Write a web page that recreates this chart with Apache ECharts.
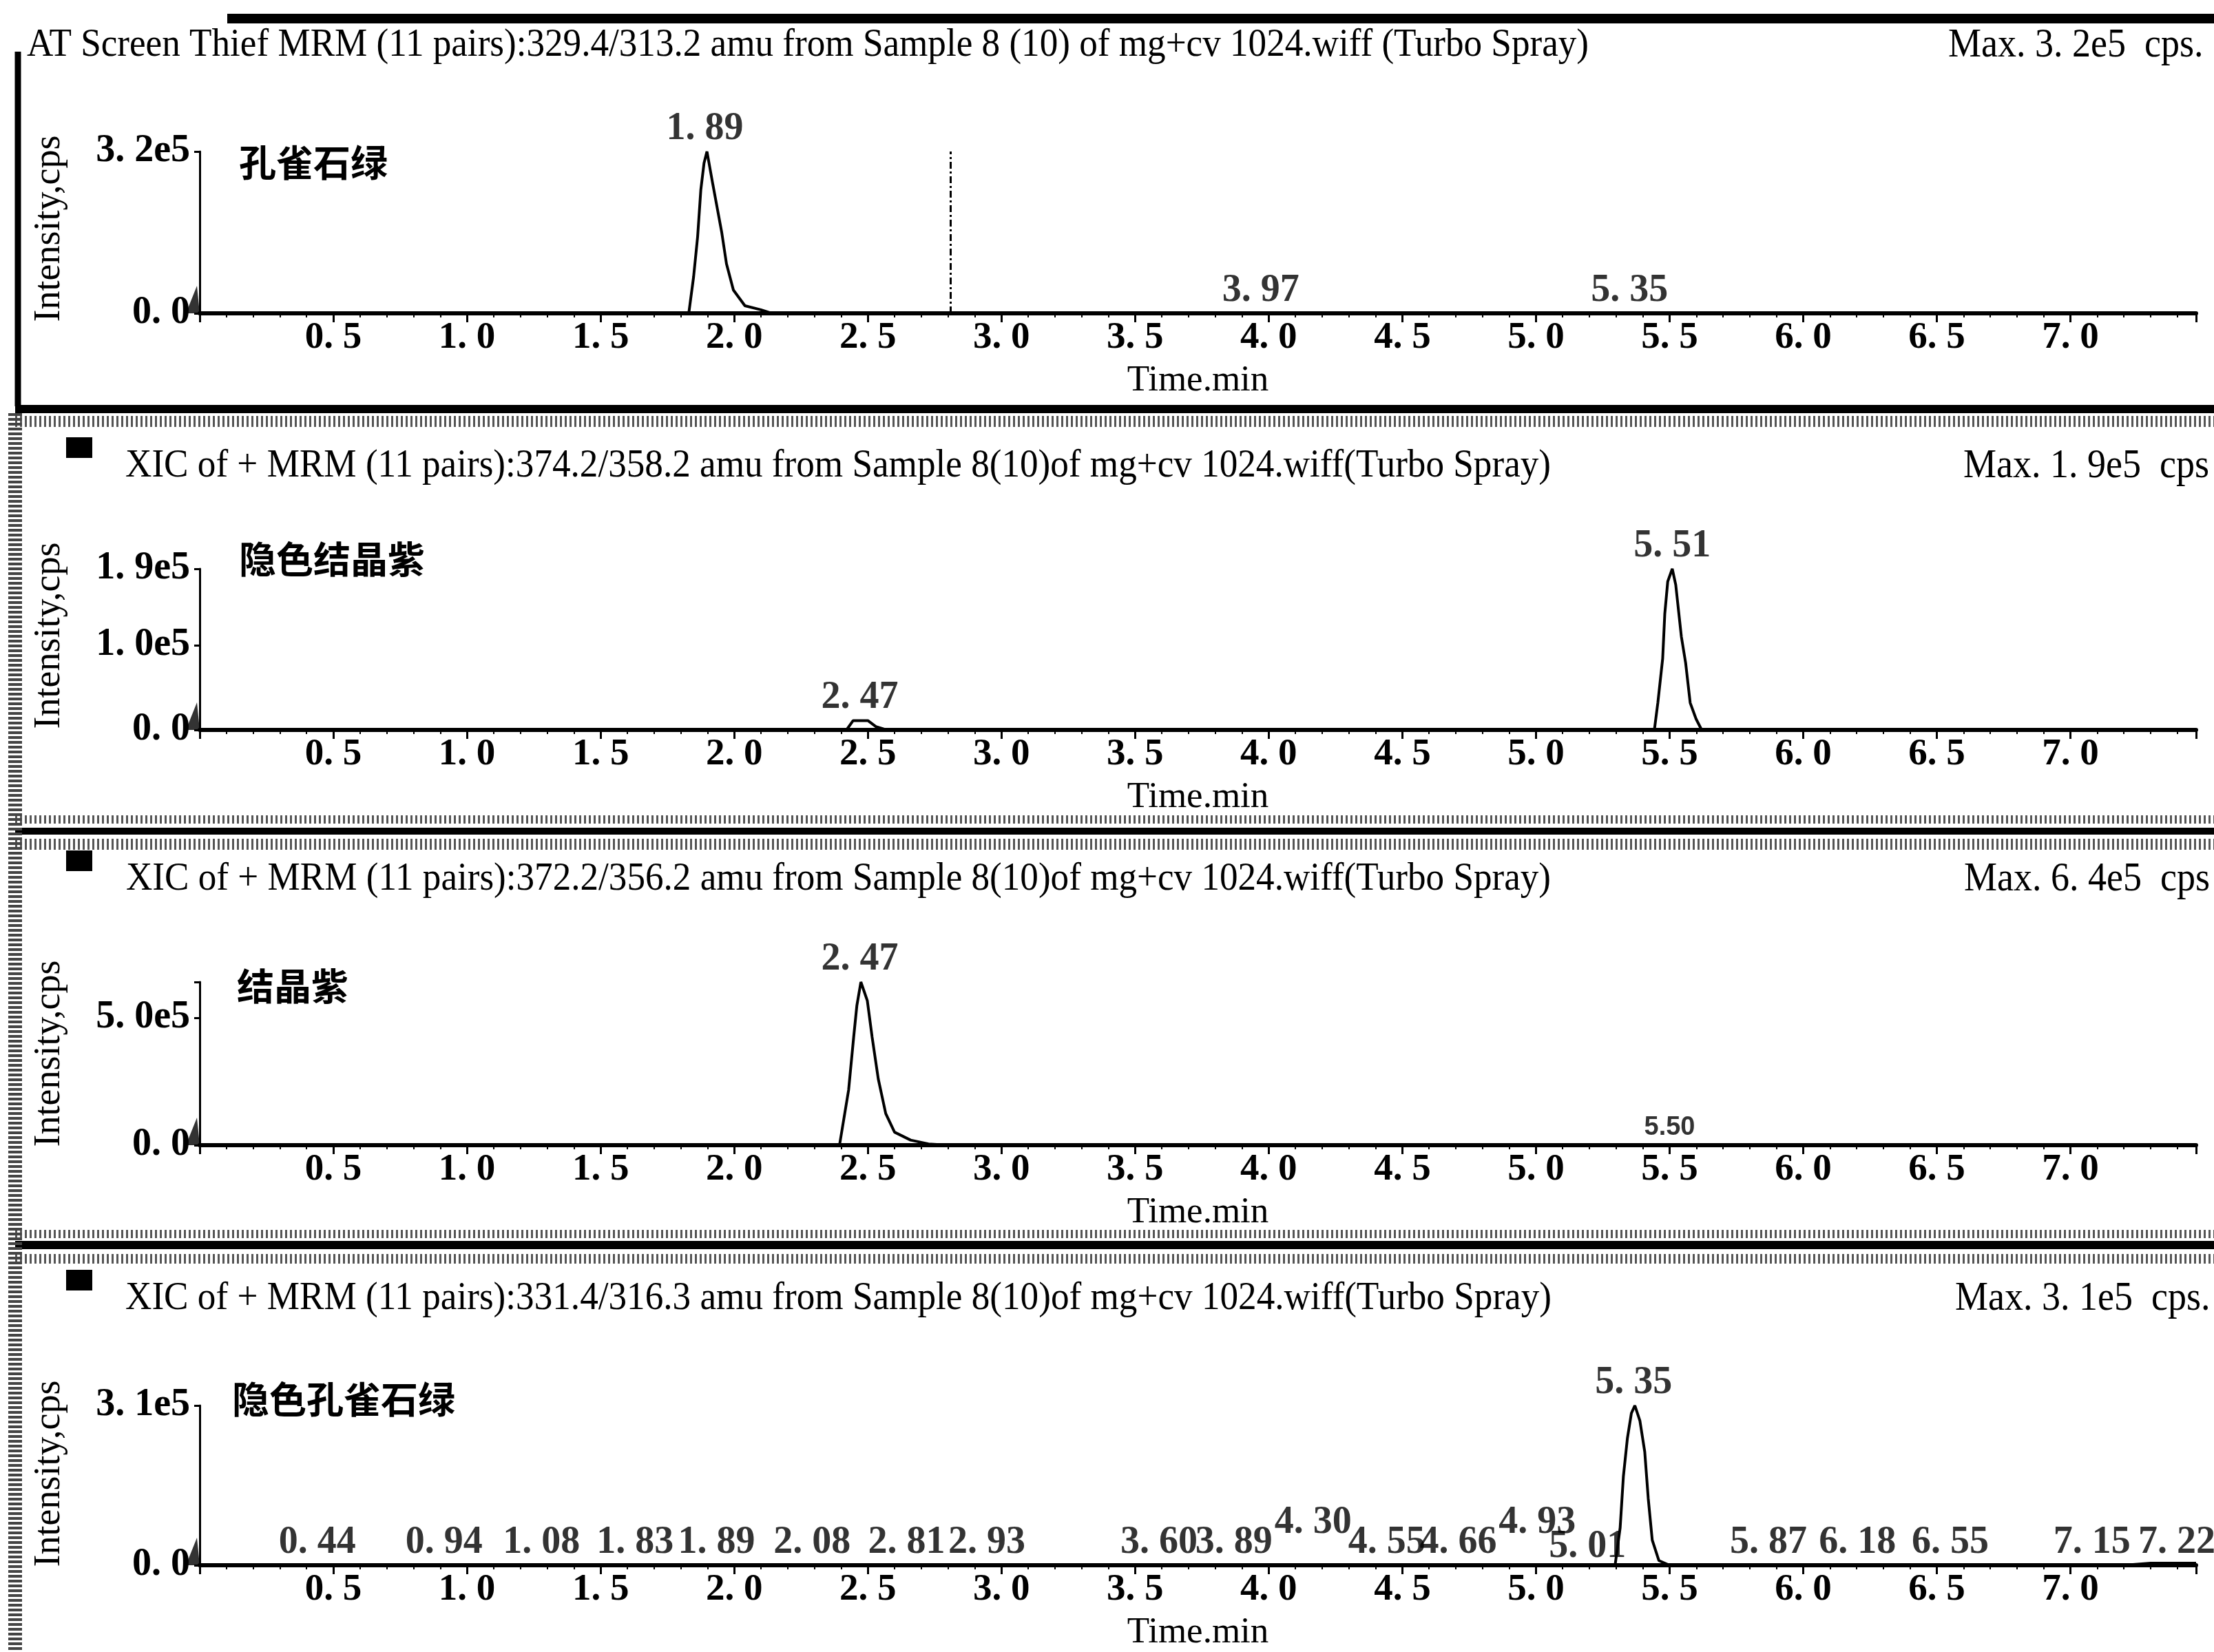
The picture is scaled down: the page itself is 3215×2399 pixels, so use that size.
<!DOCTYPE html>
<html><head><meta charset="utf-8">
<script src="https://cdn.jsdelivr.net/npm/echarts@6/dist/echarts.min.js"></script>
<style>html,body{margin:0;padding:0;background:#fff}#c{width:3215px;height:2399px}</style>
</head><body><div id="c"></div>
<script>
// ---------- DATA ----------
const headers = [
  'AT Screen Thief MRM (11 pairs):329.4/313.2 amu from Sample 8 (10) of mg+cv 1024.wiff (Turbo Spray)',
  'XIC of + MRM (11 pairs):374.2/358.2 amu from Sample 8(10)of mg+cv 1024.wiff(Turbo Spray)',
  'XIC of + MRM (11 pairs):372.2/356.2 amu from Sample 8(10)of mg+cv 1024.wiff(Turbo Spray)',
  'XIC of + MRM (11 pairs):331.4/316.3 amu from Sample 8(10)of mg+cv 1024.wiff(Turbo Spray)'
];
const maxTexts = ['Max. 3. 2e5  cps.', 'Max. 1. 9e5  cps', 'Max. 6. 4e5  cps', 'Max. 3. 1e5  cps.'];
const compounds = ['孔雀石绿', '隐色结晶紫', '结晶紫', '隐色孔雀石绿'];
const yMaxes = [3.2e5, 1.9e5, 6.4e5, 3.1e5];
const yIntervals = [3.2e5, 1.0e5, 5.0e5, 3.1e5];
const yTickValues = [[0, 3.2e5], [0, 1.0e5, 1.9e5], [0, 5.0e5], [0, 3.1e5]];
const yTickLabels = [['0. 0', '3. 2e5'], ['0. 0', '1. 0e5', '1. 9e5'], ['0. 0', '5. 0e5'], ['0. 0', '3. 1e5']];
const xMax = 7.47;

// panel 1: 孔雀石绿
const p1Time = [0, 1.830, 1.848, 1.863, 1.875, 1.887, 1.898, 1.920, 1.953, 1.971, 1.997, 2.040, 2.100, 2.140, 7.47];
const p1Int  = [0, 0, 0.72e5, 1.51e5, 2.44e5, 2.97e5, 3.2e5, 2.55e5, 1.61e5, 0.98e5, 0.46e5, 0.15e5, 0.07e5, 0, 0];
const p1PeakRT = [1.89, 3.97, 5.35];
const p1PeakInt = [3.2e5, 0, 0];
const p1Marker = [2.81];

// panel 2: 隐色结晶紫
const p2Time = [0, 2.42, 2.445, 2.50, 2.53, 2.57, 5.443, 5.456, 5.474, 5.482, 5.493, 5.51, 5.523, 5.544, 5.56, 5.577, 5.599, 5.62, 7.47];
const p2Int  = [0, 0, 0.11e5, 0.11e5, 0.04e5, 0, 0, 0.32e5, 0.84e5, 1.37e5, 1.75e5, 1.9e5, 1.71e5, 1.10e5, 0.79e5, 0.32e5, 0.13e5, 0, 0];
const p2PeakRT = [2.47, 5.51];
const p2PeakInt = [0.11e5, 1.9e5];

// panel 3: 结晶紫
const p3Time = [0, 2.394, 2.428, 2.447, 2.459, 2.474, 2.498, 2.516, 2.539, 2.567, 2.60, 2.66, 2.727, 2.80, 7.47];
const p3Int  = [0, 0, 2.16e5, 4.24e5, 5.48e5, 6.4e5, 5.67e5, 4.24e5, 2.6e5, 1.24e5, 0.51e5, 0.2e5, 0.05e5, 0, 0];
const p3PeakRT = [2.47];
const p3PeakInt = [6.4e5];
const p3MinorRT = [5.50];

// panel 4: 隐色孔雀石绿
const p4Time = [0, 5.296, 5.315, 5.327, 5.342, 5.357, 5.370, 5.389, 5.407, 5.420, 5.435, 5.460, 5.500, 7.20, 7.30, 7.47];
const p4Int  = [0, 0, 0.73e5, 1.72e5, 2.46e5, 2.95e5, 3.1e5, 2.80e5, 2.2e5, 1.3e5, 0.49e5, 0.09e5, 0, 0, 0.04e5, 0.04e5];
const p4PeakRT = [0.44, 0.94, 1.08, 1.83, 1.89, 2.08, 2.81, 2.93, 3.60, 3.89, 4.30, 4.55, 4.66, 4.93, 5.01, 5.35, 5.87, 6.18, 6.55, 7.15, 7.22];
const p4PeakInt = [0, 0, 0, 0, 0, 0, 0, 0, 0, 0, 0, 0, 0, 0, 0, 3.1e5, 0, 0, 0, 0, 0];

// ---------- LAYOUT (pixels) ----------
const gridTop = [220, 826, 1426, 2041];
const gridBottom = [455, 1060, 1663, 2278];
const gridLeft = 290, gridRight = 26;
const headerY = [66, 677, 1277, 1886];
const headerX = [39, 182, 183, 182];
const headerW = [2268, 2070, 2069, 2071];
const maxX = [2829, 2851, 2852, 2839];
const compoundX = [347, 347, 344, 337];
const compoundY = [236, 812, 1432, 2032];
const yNameY = [332, 923, 1530, 2140];
// label shifts (px) used by the instrument software to avoid overlap, panel 4
const p4LabelDx = [0, -10, 77, -78, 17, 82, -64, 6, -4, -8, -52, -42, 19, 29, 71, 6, 0, 9, 0, -27, 69];
const p4LabelDy = [0, 0, 0, 0, 0, 0, 0, 0, 0, 0, -29, 0, 0, -29, 6, 0, 0, 0, 0, 0, 0];

const SERIF = '"Liberation Serif", "Times New Roman", serif';
const fmtRT = v => v.toFixed(2).replace('.', '. ');
const fmtX = v => v.toFixed(1).replace('.', '. ');

const chart = echarts.init(document.getElementById('c'), null, {renderer: 'canvas'});

const grids = [], xAxes = [], yAxes = [], series = [];
const times = [p1Time, p2Time, p3Time, p4Time];
const ints = [p1Int, p2Int, p3Int, p4Int];
const peakRT = [p1PeakRT, p2PeakRT, p3PeakRT, p4PeakRT];
const peakInt = [p1PeakInt, p2PeakInt, p3PeakInt, p4PeakInt];

for (let i = 0; i < 4; i++) {
  grids.push({left: gridLeft, right: gridRight, top: gridTop[i], height: gridBottom[i] - gridTop[i], containLabel: false});
  xAxes.push({
    type: 'value', gridIndex: i, min: 0, max: xMax, interval: 0.5,
    axisLine: {show: true, onZero: false, lineStyle: {color: '#000', width: 6}},
    axisTick: {show: true, length: 13, lineStyle: {color: '#000', width: 3}},
    minorTick: {show: true, splitNumber: 5, length: 6, lineStyle: {color: '#000', width: 2}},
    splitLine: {show: false}, minorSplitLine: {show: false},
    axisLabel: {margin: 8, color: '#000', fontFamily: SERIF, fontWeight: 'bold', fontSize: 55,
      showMaxLabel: false, showMinLabel: false,
      formatter: v => (v <= 0 || v > 7.01) ? '' : fmtX(v)},
    name: 'Time.min', nameLocation: 'middle', nameGap: 72,
    nameTextStyle: {color: '#000', fontFamily: SERIF, fontSize: 53}
  });
  const tv = yTickValues[i], tl = yTickLabels[i];
  yAxes.push({
    type: 'value', gridIndex: i, min: 0, max: yMaxes[i], interval: yIntervals[i],
    axisLine: {show: true, lineStyle: {color: '#000', width: 3}},
    axisTick: {show: true, length: 8, lineStyle: {color: '#000', width: 3}},
    splitLine: {show: false},
    axisLabel: {margin: 14, color: '#000', fontFamily: SERIF, fontWeight: 'bold', fontSize: 56,
      formatter: v => { const k = tv.findIndex(t => Math.abs(t - v) < 1); return k >= 0 ? tl[k] : ''; }}
  });
  const line = {
    type: 'line', xAxisIndex: i, yAxisIndex: i, showSymbol: false, symbol: 'none', silent: true,
    data: times[i].map((t, k) => [t, ints[i][k]]),
    lineStyle: {color: '#000', width: 4}, animation: false, z: 3
  };
  if (i === 0) {
    line.markLine = {silent: true, symbol: 'none', label: {show: false},
      lineStyle: {color: '#000', width: 3, type: [10, 4, 3, 4]},
      data: p1Marker.map(t => ({xAxis: t}))};
  }
  series.push(line);
  series.push({
    type: 'scatter', xAxisIndex: i, yAxisIndex: i, symbolSize: 1, silent: true, animation: false,
    itemStyle: {color: 'rgba(0,0,0,0)'}, z: 5,
    data: peakRT[i].map((t, k) => ({
      value: [t, peakInt[i][k]],
      label: i === 3 ? {offset: [p4LabelDx[k], p4LabelDy[k]]} : {}
    })),
    label: {show: true, position: 'top', distance: 4, color: '#000', fontFamily: SERIF, fontWeight: 'bold', fontSize: 56,
      formatter: p => fmtRT(p.value[0])}
  });
  // origin marker triangle
  series.push({
    type: 'scatter', xAxisIndex: i, yAxisIndex: i, silent: true, animation: false, z: 6,
    symbol: 'path://M0,20 L8,0 L10,20 Z', symbolSize: [20, 40], symbolOffset: [-10, -20],
    itemStyle: {color: '#000'}, data: [[0, 0]]
  });
}
series.push({
  type: 'scatter', xAxisIndex: 2, yAxisIndex: 2, symbolSize: 1, silent: true, animation: false,
  itemStyle: {color: 'rgba(0,0,0,0)'},
  data: p3MinorRT.map(t => [t, 0]),
  label: {show: true, position: 'top', distance: 6, color: '#000', fontFamily: '"Liberation Sans", Arial, sans-serif',
    fontWeight: 'bold', fontSize: 38, formatter: p => p.value[0].toFixed(2)}
});

// ---------- graphic text etc ----------
const ctx = document.createElement('canvas').getContext('2d');
function measure(text, font) { ctx.font = font; return ctx.measureText(text).width; }
const graphics = [];
function txt(text, x, y, size, opts) {
  opts = opts || {};
  const family = opts.family || SERIF;
  const weight = opts.weight || 'normal';
  const font = weight + ' ' + size + 'px ' + family;
  let sx = 1;
  if (opts.w) sx = opts.w / measure(text, font);
  if (opts.sx) sx = opts.sx;
  graphics.push({type: 'text', x: x, y: y, scaleX: sx, rotation: opts.rot || 0, silent: true, z: 10,
    style: {text: text, font: font, fill: '#000', align: opts.align || 'left', textAlign: opts.align || 'left',
      verticalAlign: 'middle', textVerticalAlign: 'middle'}});
}
function hline(y, x1, x2, w, color, dash) {
  graphics.push({type: 'line', silent: true, z: 1, shape: {x1: x1, y1: y, x2: x2, y2: y},
    style: {stroke: color, lineWidth: w, lineDash: dash || null}});
}
function vline(x, y1, y2, w, color, dash) {
  graphics.push({type: 'line', silent: true, z: 1, shape: {x1: x, y1: y1, x2: x, y2: y2},
    style: {stroke: color, lineWidth: w, lineDash: dash || null}});
}

for (let i = 0; i < 4; i++) {
  txt(headers[i], headerX[i], headerY[i], 56, {w: headerW[i]});
  txt(maxTexts[i], maxX[i], headerY[i], 60, {sx: 0.9});
  txt(compounds[i], compoundX[i], compoundY[i], 54, {family: '"Noto Sans CJK SC", sans-serif', weight: 'bold'});
  txt('Intensity,cps', 72, yNameY[i], 54, {align: 'center', rot: Math.PI / 2});
  if (i > 0) {
    const sy = headerY[i] - 42;
    graphics.push({type: 'rect', silent: true, shape: {x: 96, y: sy, width: 38, height: 30}, style: {fill: '#000'}});
  }
}
// separators and borders (scan frame)
hline(27, 330, 3215, 14, '#000');
hline(594, 22, 3215, 12, '#000');
hline(612, 22, 3215, 16, '#555', [3, 4]);
hline(1190, 22, 3215, 12, '#555', [3, 4]);
hline(1207, 22, 3215, 10, '#000');
hline(1226, 22, 3215, 16, '#555', [3, 4]);
hline(1792, 22, 3215, 12, '#555', [3, 4]);
hline(1808, 22, 3215, 12, '#000');
hline(1828, 22, 3215, 14, '#555', [3, 4]);
vline(26, 75, 590, 9, '#000');
vline(22, 600, 2399, 20, '#444', [4, 3]);

chart.setOption({
  animation: false,
  backgroundColor: '#fff',
  grid: grids, xAxis: xAxes, yAxis: yAxes, series: series,
  graphic: graphics
});
</script></body></html>
